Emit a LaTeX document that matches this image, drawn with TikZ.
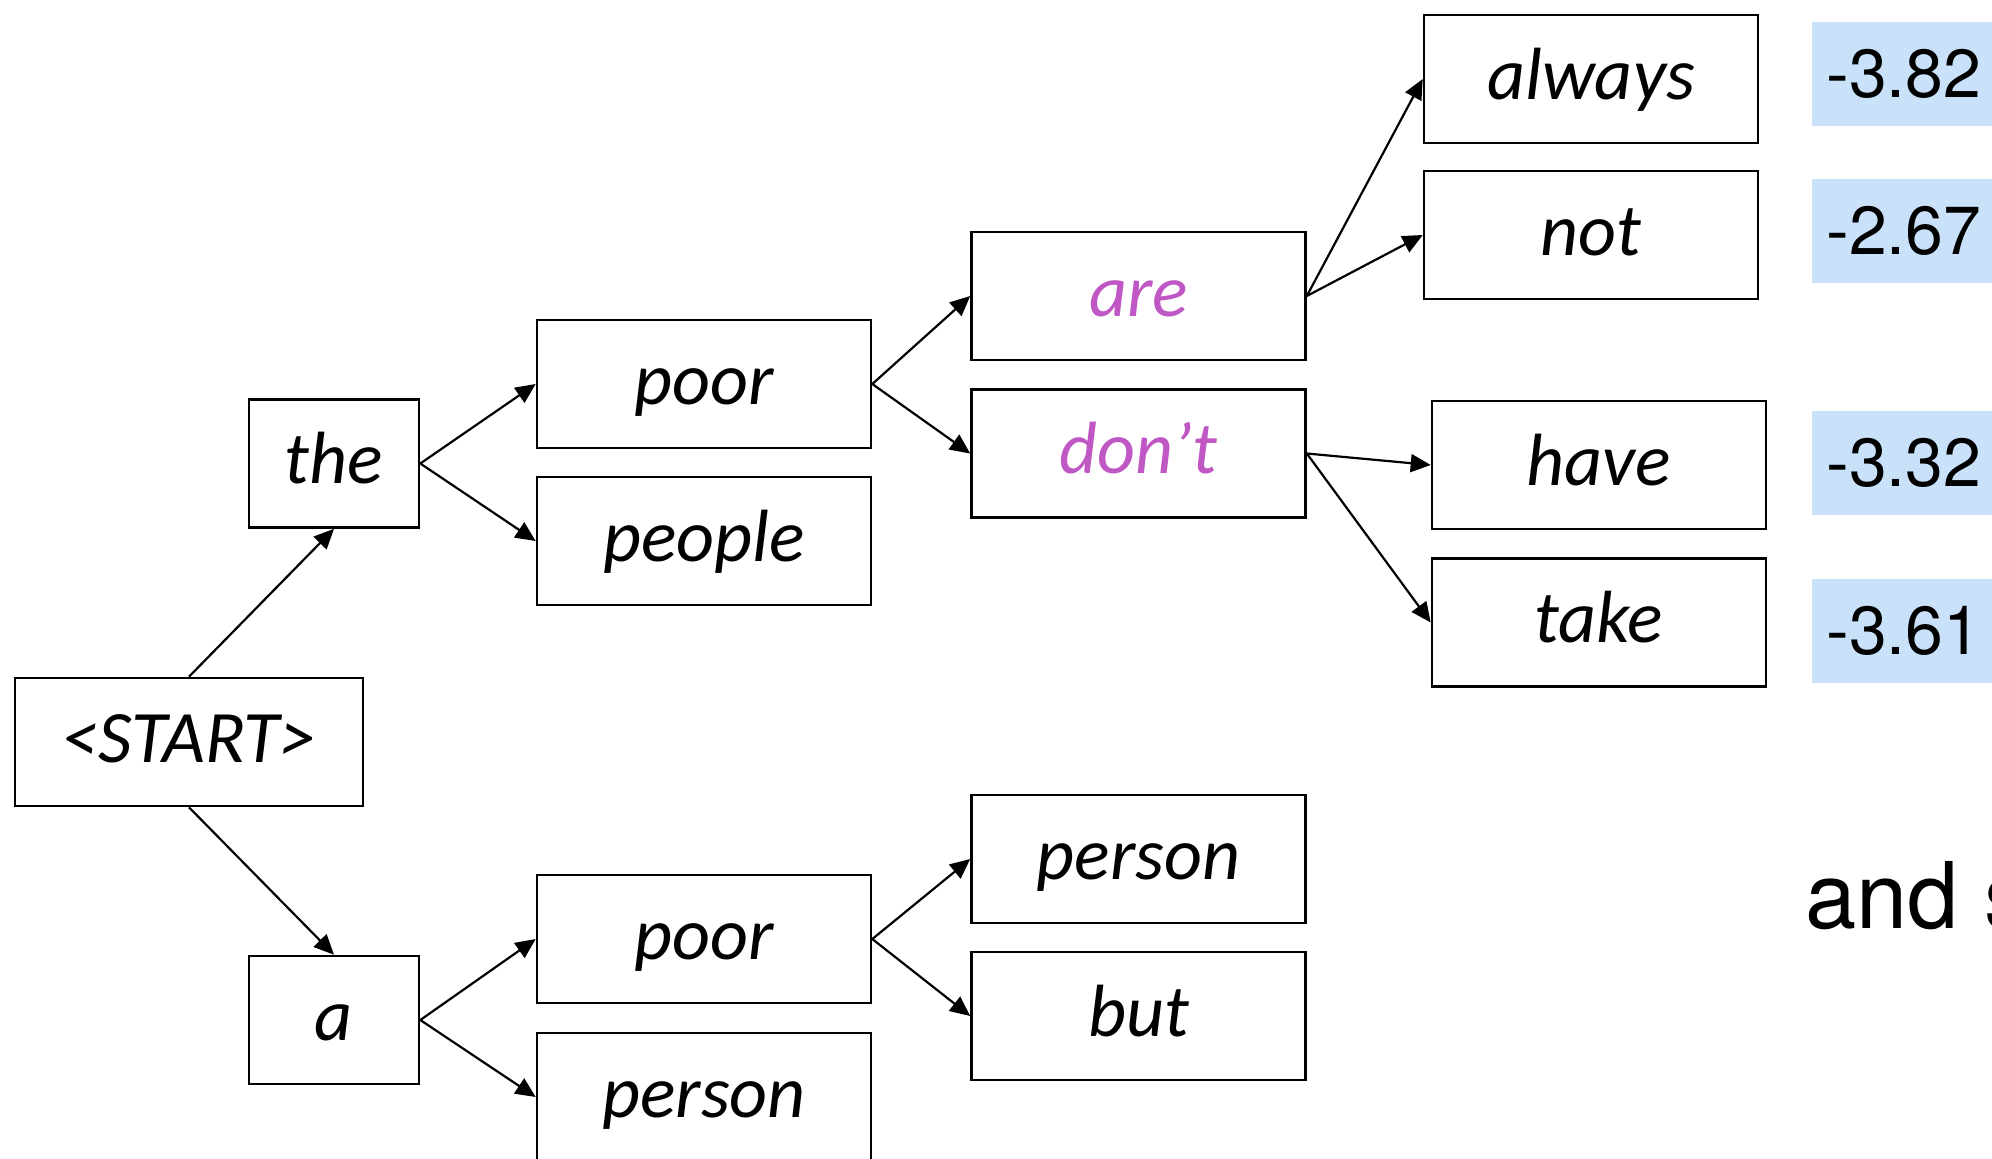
\documentclass[tikz,border=0pt]{standalone}
\usepackage{fontspec}
\setmainfont{Carlito}
\newfontfamily\scorefont{TeX Gyre Heros}
\usetikzlibrary{arrows.meta}

\definecolor{beampurple}{RGB}{191,88,196}
\definecolor{scoreblue}{RGB}{201,226,250}

\begin{document}
\begin{tikzpicture}[x=0.5pt,y=-0.5pt,
    wordbox/.style={draw, line width=1.3pt, inner sep=0pt, minimum height=64pt,
      text height=27pt, text depth=7pt,
      font=\fontsize{37}{44}\selectfont\itshape},
    widebox/.style={wordbox, minimum width=167pt},
    smallbox/.style={wordbox, minimum width=85pt},
    scorebox/.style={fill=scoreblue, anchor=west, inner xsep=7pt, inner ysep=0pt,
      minimum height=52pt, font=\scorefont\fontsize{34}{40}\selectfont},
    edge/.style={line width=1.1pt, -{Triangle[length=10pt,width=9pt]}}]

    % Page (pixel units, origin top left)
    \useasboundingbox (0,0) rectangle (1992,1158);
    \clip (0,0) rectangle (1992,1158);

    % Level 0 and 1
    \node[wordbox, minimum width=174pt] (start) at (189,742) {<START>};
    \node[smallbox] (the) at (334,463.5) {the};
    \node[smallbox] (a) at (334,1020) {a};

    % Level 2
    \node[widebox] (poorA) at (704,384) {poor};
    \node[widebox] (people) at (704,541) {people};
    \node[widebox] (poorB) at (704,939) {poor};
    \node[widebox] (personB) at (704,1097) {person};

    % Level 3
    \node[widebox, text=beampurple] (are) at (1138.5,296) {are};
    \node[widebox, text=beampurple] (dont) at (1138.5,453.5) {don’t};
    \node[widebox] (personC) at (1138.5,859) {person};
    \node[widebox] (but) at (1138.5,1016) {but};

    % Level 4
    \node[widebox] (always) at (1591,79) {always};
    \node[widebox] (not) at (1591,235) {not};
    \node[widebox] (have) at (1599,465) {have};
    \node[widebox] (take) at (1599,622.5) {take};

    % Scores
    \foreach \y/\s/\nm in {74/-3.82/sA, 230.5/-2.67/sB, 462.5/-3.32/sC, 630.5/-3.61/sD}{
      \node[scorebox] (\nm) at (1812,\y) {\s};
    }
    \node[anchor=base west, inner sep=0pt, font=\scorefont\fontsize{46}{55}\selectfont]
      (andso) at (1805,928) {and s};

    % Edges
    \draw[edge] (start.north) -- (the.south);
    \draw[edge] (start.south) -- (a.north);
    \foreach \src/\dst in {the/poorA, the/people, poorA/are, poorA/dont,
        are/always, are/not, dont/have, dont/take,
        a/poorB, a/personB, poorB/personC, poorB/but}{
      \draw[edge] (\src.east) -- (\dst.west);
    }

\end{tikzpicture}
\end{document}
